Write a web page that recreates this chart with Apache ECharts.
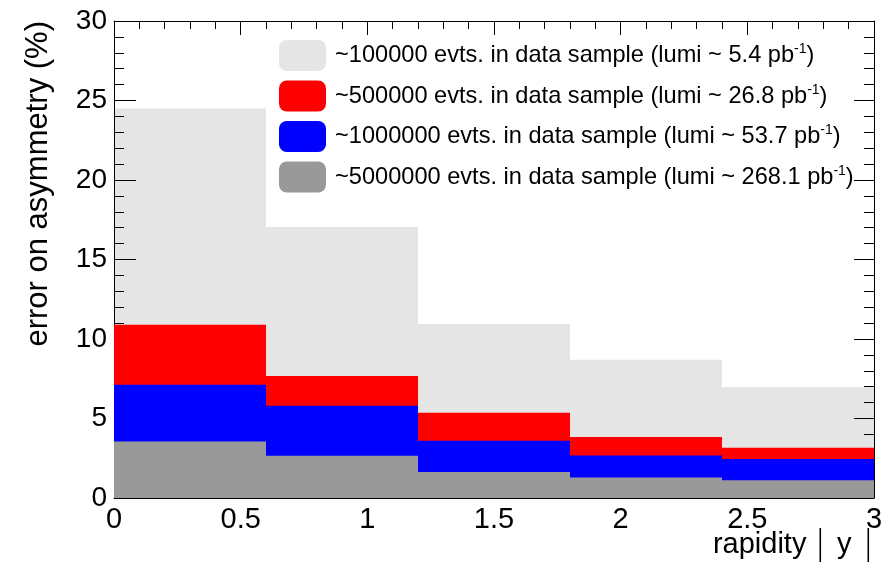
<!DOCTYPE html>
<html>
<head>
<meta charset="utf-8">
<script src="https://cdn.jsdelivr.net/npm/echarts@6/dist/echarts.min.js"></script>
<style>html,body{margin:0;padding:0;background:#fff}#c{width:892px;height:571px}</style>
</head>
<body>
<div id="c"></div>
<script>
// Bin edges in rapidity |y|
var binEdges = [0, 0.6, 1.2, 1.8, 2.4, 3.0];
// Error on asymmetry (%) per bin for each sample size
var evts100k = [24.5, 17.05, 10.95, 8.7, 6.97];
var evts500k = [10.9, 7.68, 5.36, 3.83, 3.16];
var evts1M   = [7.12, 5.8, 3.6, 2.68, 2.45];
var evts5M   = [3.56, 2.66, 1.63, 1.29, 1.11];
var seriesNames = [
  '~100000 evts. in data sample (lumi ~ 5.4 pb',
  '~500000 evts. in data sample (lumi ~ 26.8 pb',
  '~1000000 evts. in data sample (lumi ~ 53.7 pb',
  '~5000000 evts. in data sample (lumi ~ 268.1 pb'
];
var seriesColors = ['#e5e5e5', '#ff0000', '#0000ff', '#999999'];
var xTitle = 'rapidity';
var yTitle = 'error on asymmetry (%)';

function toBins(vals) {
  return vals.map(function (v, i) { return [binEdges[i], binEdges[i + 1], v]; });
}
function renderItem(params, api) {
  var p0 = api.coord([api.value(0), api.value(2)]);
  var p1 = api.coord([api.value(1), 0]);
  return {
    type: 'rect',
    shape: { x: p0[0], y: p0[1], width: p1[0] - p0[0], height: p1[1] - p0[1] },
    style: { fill: api.visual('color') }
  };
}
var allVals = [evts100k, evts500k, evts1M, evts5M];
var series = allVals.map(function (vals, k) {
  return {
    type: 'custom',
    name: seriesNames[k],
    renderItem: renderItem,
    encode: { x: [0, 1], y: 2 },
    itemStyle: { color: seriesColors[k] },
    z: k === 0 ? 0 : 2,
    data: toBins(vals)
  };
});

var chart = echarts.init(document.getElementById('c'));
var font = 'Liberation Sans, Arial, sans-serif';
chart.setOption({
  animation: false,
  textStyle: { fontFamily: font },
  grid: { left: 114, right: 18, top: 21, bottom: 73, containLabel: false, outerBoundsMode: 'none' },
  legend: {
    orient: 'vertical',
    left: 279,
    top: 40,
    padding: 0,
    itemWidth: 47,
    itemHeight: 31,
    itemGap: 9.5,
    icon: 'roundRect',
    selectedMode: false,
    formatter: function (n) { return '{f|' + n + '}{s|-1}{a|)}'; },
    textStyle: {
      fontFamily: font,
      color: '#000',
      rich: {
        f: { fontSize: 23.6, fontFamily: font, color: '#000', padding: [0, 0, 0, 4] },
        a: { fontSize: 23.6, fontFamily: font, color: '#000' },
        s: { fontSize: 14, fontFamily: font, color: '#000', padding: [0, 0, 12, 0] }
      }
    },
    data: seriesNames
  },
  graphic: [{
    type: 'text',
    right: 18,
    top: 528,
    style: {
      text: '{t|' + xTitle + ' }{b||}{y| y }{b||}',
      rich: {
        t: { fontSize: 29, fontFamily: font, fill: '#000' },
        y: { fontSize: 29, fontFamily: font, fill: '#000', padding: [0, 3, 0, 3] },
        b: { fontSize: 34, fontFamily: 'DejaVu Sans', fontWeight: 'lighter', fill: '#000' }
      }
    }
  }],
  xAxis: [{
    type: 'value', min: 0, max: 3, interval: 0.5, position: 'bottom',
    axisLine: { onZero: false, lineStyle: { color: '#000', width: 1 } },
    axisTick: { show: false },
    splitLine: { show: false },
    axisLabel: { fontSize: 29, color: '#000', margin: 7, fontFamily: font },
    z: 1
  }, {
    type: 'value', min: 0, max: 3, interval: 0.5, position: 'top',
    axisLine: { onZero: false, lineStyle: { color: '#000', width: 1 } },
    axisTick: { show: true, inside: true, length: 14, lineStyle: { color: '#000' } },
    minorTick: { show: true, splitNumber: 5, length: 8, lineStyle: { color: '#000' } },
    splitLine: { show: false },
    axisLabel: { show: false },
    z: 1
  }],
  yAxis: [{
    type: 'value', min: 0, max: 30, interval: 5, position: 'left',
    axisLine: { show: true, onZero: false, lineStyle: { color: '#000', width: 1 } },
    axisTick: { show: true, inside: true, length: 22, lineStyle: { color: '#000' } },
    minorTick: { show: true, splitNumber: 5, length: 10, lineStyle: { color: '#000' } },
    splitLine: { show: false },
    axisLabel: { fontSize: 28, color: '#000', margin: 7, fontFamily: font },
    name: yTitle,
    nameLocation: 'end',
    nameRotate: 90,
    nameGap: 0,
    nameTextStyle: {
      fontSize: 31, color: '#000', fontFamily: font,
      align: 'right', verticalAlign: 'bottom', padding: [0, 0, 60, 0]
    },
    z: 1
  }, {
    type: 'value', min: 0, max: 30, interval: 5, position: 'right',
    axisLine: { show: true, onZero: false, lineStyle: { color: '#000', width: 1 } },
    axisTick: { show: true, inside: true, length: 20, lineStyle: { color: '#000' } },
    minorTick: { show: true, splitNumber: 5, length: 10, lineStyle: { color: '#000' } },
    splitLine: { show: false },
    axisLabel: { show: false },
    z: 1
  }],
  series: series
});
</script>
</body>
</html>
